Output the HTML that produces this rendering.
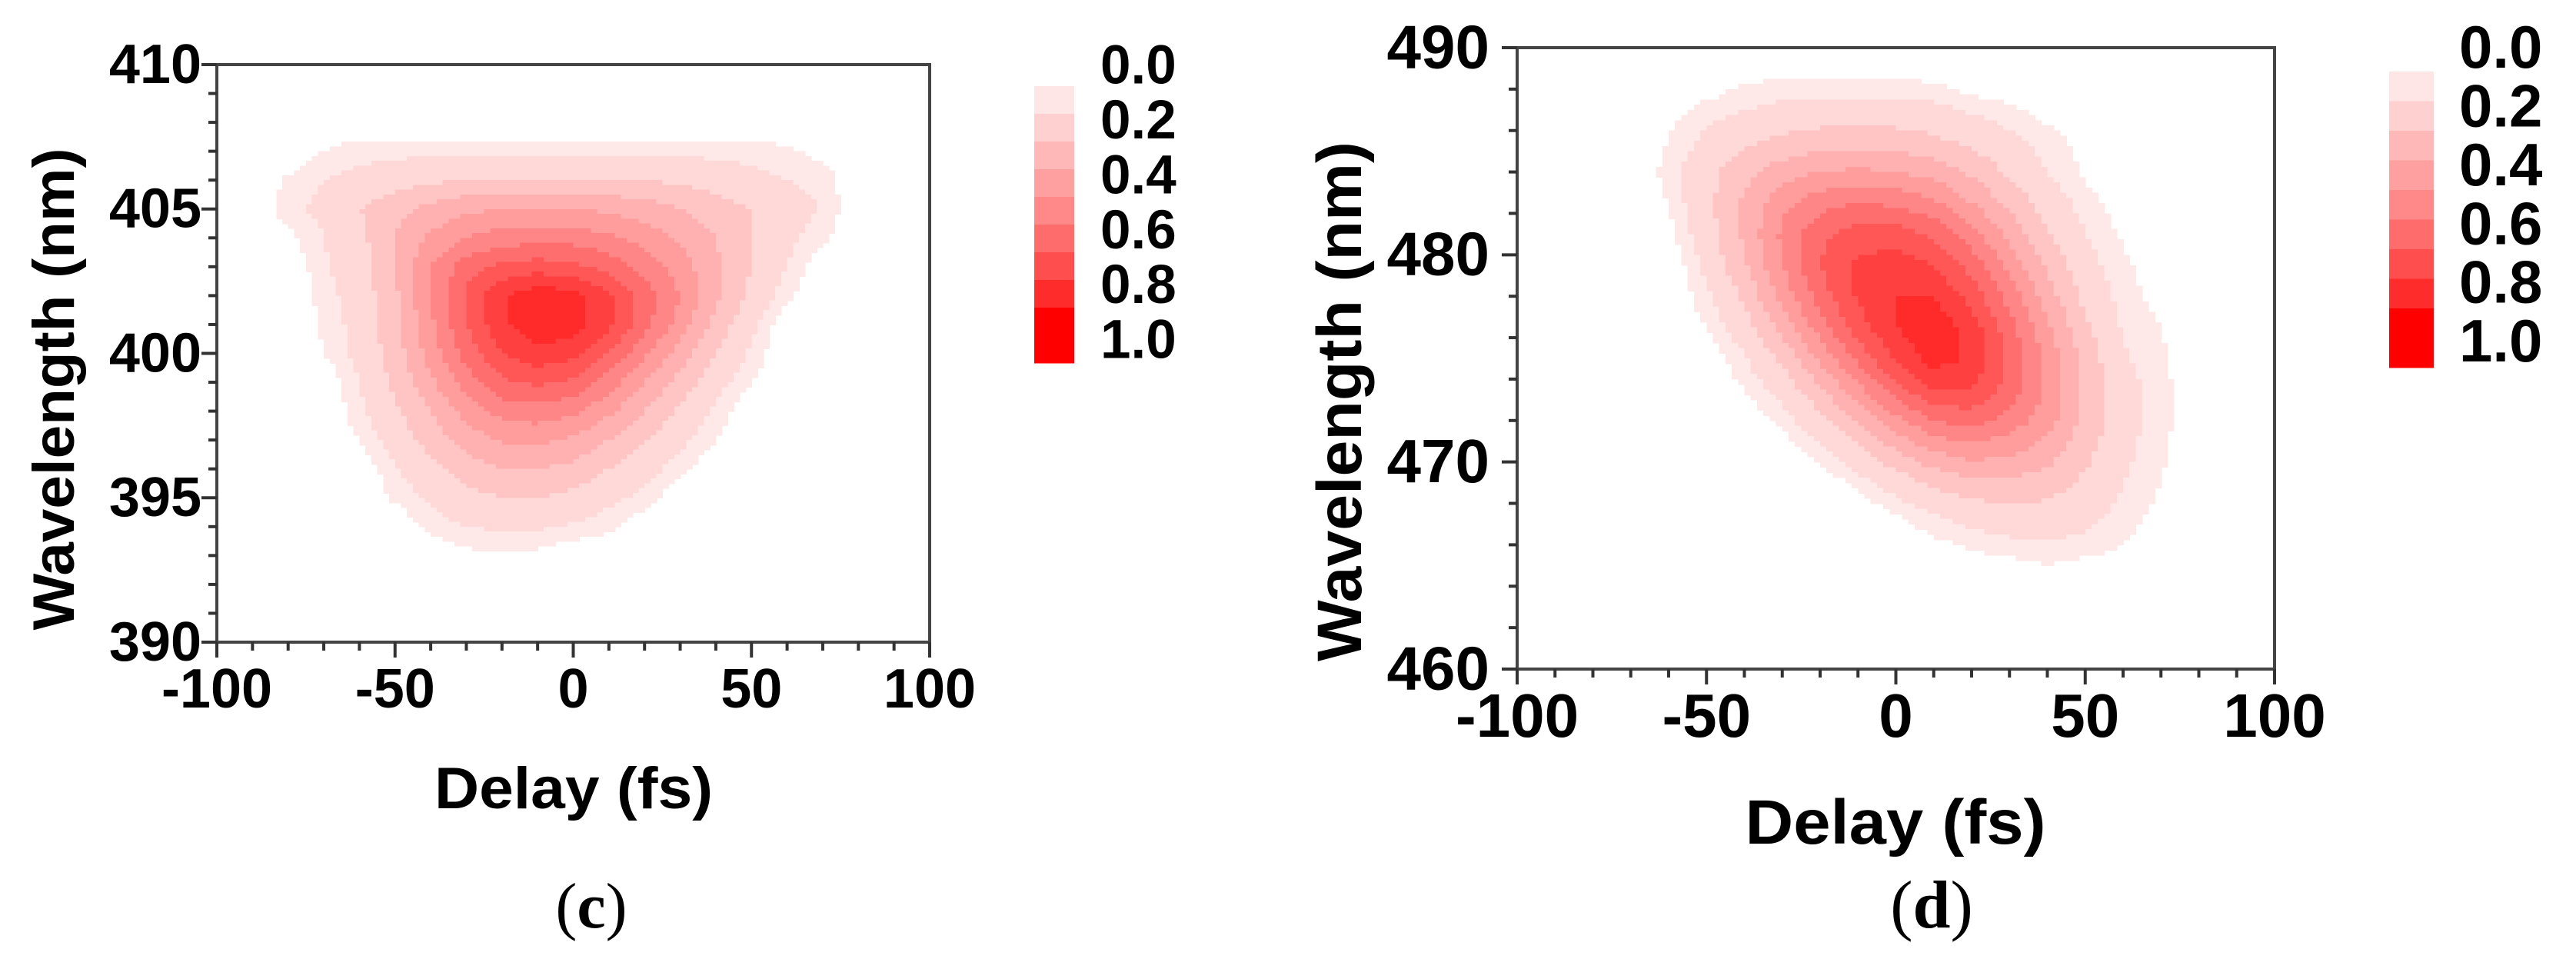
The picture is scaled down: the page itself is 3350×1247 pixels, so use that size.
<!DOCTYPE html>
<html><head><meta charset="utf-8"><style>
html,body{margin:0;padding:0;background:#fff;}
svg{display:block;}
text{font-family:"Liberation Sans",Arial,sans-serif;font-weight:bold;fill:#000;}
.cap{font-family:"Liberation Serif","Times New Roman",serif;font-weight:normal;}
</style></head><body>
<svg id="fig" width="3350" height="1247" viewBox="0 0 3350 1247" xmlns="http://www.w3.org/2000/svg"></svg>
<script>
// ---------- data: panel (c) ----------
const cDelays = [-100,-90,-80,-70,-60,-50,-40,-30,-20,-10,0,10,20,30,40,50,60,70,80,90,100];
const cWavelengths = [410,409,408,407,406,405,404,403,402,401,400,399,398,397,396,395,394,393,392,391,390];
const cIntensity = [
[0,0,0,0,0,0,0,0,0,0,0,0,0,0,0,0,0,0,0,0,0],
[0,0,0,0,0,0,0,0,0,0,0,0,0,0,0,0,0,0,0,0,0],
[0,0,0,0,0,0,0,0,0,0,0,0,0,0,0,0,0,0,0,0,0],
[0,0,0,0.05,0.08,0.08,0.08,0.08,0.08,0.08,0.08,0.08,0.08,0.08,0.08,0.08,0.06,0.03,0,0,0],
[0,0,0.06,0.1,0.12,0.15,0.18,0.2,0.2,0.2,0.2,0.2,0.2,0.18,0.15,0.12,0.1,0.08,0,0,0],
[0,0,0.08,0.12,0.2,0.27,0.33,0.38,0.4,0.4,0.4,0.38,0.35,0.3,0.25,0.2,0.15,0.09,0,0,0],
[0,0,0.03,0.1,0.17,0.3,0.42,0.5,0.55,0.56,0.56,0.52,0.46,0.38,0.3,0.2,0.12,0.06,0,0,0],
[0,0,0,0.09,0.15,0.3,0.5,0.65,0.72,0.75,0.73,0.66,0.56,0.45,0.32,0.2,0.1,0,0,0,0],
[0,0,0,0.07,0.14,0.28,0.5,0.72,0.88,0.97,0.93,0.82,0.66,0.5,0.32,0.17,0.06,0,0,0,0],
[0,0,0,0.06,0.13,0.27,0.48,0.7,0.88,0.98,0.95,0.82,0.64,0.45,0.26,0.12,0,0,0,0,0],
[0,0,0,0.05,0.12,0.25,0.44,0.64,0.8,0.87,0.83,0.7,0.52,0.35,0.2,0.08,0,0,0,0,0],
[0,0,0,0,0.1,0.22,0.38,0.55,0.68,0.72,0.68,0.55,0.4,0.26,0.13,0.05,0,0,0,0,0],
[0,0,0,0,0.08,0.18,0.3,0.44,0.54,0.56,0.52,0.42,0.3,0.18,0.08,0,0,0,0,0,0],
[0,0,0,0,0.05,0.14,0.24,0.34,0.41,0.42,0.38,0.3,0.2,0.12,0.05,0,0,0,0,0,0],
[0,0,0,0,0,0.09,0.17,0.25,0.3,0.3,0.27,0.2,0.13,0.07,0,0,0,0,0,0,0],
[0,0,0,0,0,0.06,0.11,0.16,0.2,0.2,0.17,0.12,0.08,0,0,0,0,0,0,0,0],
[0,0,0,0,0,0,0.07,0.1,0.11,0.11,0.09,0.06,0,0,0,0,0,0,0,0,0],
[0,0,0,0,0,0,0,0.03,0.04,0.03,0,0,0,0,0,0,0,0,0,0,0],
[0,0,0,0,0,0,0,0,0,0,0,0,0,0,0,0,0,0,0,0,0],
[0,0,0,0,0,0,0,0,0,0,0,0,0,0,0,0,0,0,0,0,0],
[0,0,0,0,0,0,0,0,0,0,0,0,0,0,0,0,0,0,0,0,0]
];
const cXTicks = [-100,-50,0,50,100];
const cYTicks = [390,395,400,405,410];

// ---------- data: panel (d) ----------
const dDelays = [-100,-90,-80,-70,-60,-50,-40,-30,-20,-10,0,10,20,30,40,50,60,70,80,90,100];
const dWavelengths = [490,488.5,487,485.5,484,482.5,481,479.5,478,476.5,475,473.5,472,470.5,469,467.5,466,464.5,463,461.5,460];
const dIntensity = [
[0,0,0,0,0,0,0,0,0,0,0,0,0,0,0,0,0,0,0,0,0],
[0,0,0,0,0,0,0.04,0.05,0.05,0.05,0.05,0.04,0,0,0,0,0,0,0,0,0],
[0,0,0,0,0.03,0.07,0.1,0.12,0.13,0.13,0.13,0.12,0.09,0.06,0.03,0,0,0,0,0,0],
[0,0,0,0,0.05,0.12,0.18,0.22,0.25,0.26,0.25,0.22,0.17,0.12,0.07,0.03,0,0,0,0,0],
[0,0,0,0,0.07,0.16,0.27,0.35,0.4,0.42,0.4,0.36,0.28,0.18,0.1,0.04,0,0,0,0,0],
[0,0,0,0,0.05,0.17,0.32,0.47,0.56,0.6,0.58,0.52,0.4,0.27,0.15,0.07,0.02,0,0,0,0],
[0,0,0,0,0.03,0.15,0.32,0.52,0.67,0.75,0.75,0.68,0.54,0.37,0.21,0.1,0.04,0,0,0,0],
[0,0,0,0,0,0.12,0.28,0.5,0.7,0.82,0.85,0.8,0.66,0.47,0.28,0.13,0.06,0.02,0,0,0],
[0,0,0,0,0,0.08,0.22,0.43,0.65,0.82,0.9,0.9,0.76,0.56,0.35,0.17,0.07,0.03,0,0,0],
[0,0,0,0,0,0.05,0.15,0.33,0.55,0.75,0.9,0.97,0.85,0.64,0.42,0.22,0.09,0.05,0,0,0],
[0,0,0,0,0,0,0.09,0.22,0.42,0.63,0.82,0.95,0.88,0.68,0.47,0.26,0.11,0.06,0,0,0],
[0,0,0,0,0,0,0.05,0.13,0.28,0.47,0.66,0.8,0.8,0.66,0.48,0.28,0.13,0.07,0,0,0],
[0,0,0,0,0,0,0,0.07,0.16,0.3,0.47,0.6,0.64,0.56,0.44,0.27,0.13,0.07,0,0,0],
[0,0,0,0,0,0,0,0,0.08,0.17,0.29,0.4,0.45,0.42,0.35,0.23,0.12,0.06,0,0,0],
[0,0,0,0,0,0,0,0,0,0.07,0.14,0.22,0.27,0.28,0.25,0.18,0.1,0.05,0,0,0],
[0,0,0,0,0,0,0,0,0,0,0.05,0.1,0.14,0.16,0.16,0.13,0.08,0.03,0,0,0],
[0,0,0,0,0,0,0,0,0,0,0,0.03,0.06,0.08,0.09,0.08,0.05,0,0,0,0],
[0,0,0,0,0,0,0,0,0,0,0,0,0,0,0.03,0,0,0,0,0,0],
[0,0,0,0,0,0,0,0,0,0,0,0,0,0,0,0,0,0,0,0,0],
[0,0,0,0,0,0,0,0,0,0,0,0,0,0,0,0,0,0,0,0,0],
[0,0,0,0,0,0,0,0,0,0,0,0,0,0,0,0,0,0,0,0,0]
];
const dXTicks = [-100,-50,0,50,100];
const dYTicks = [460,470,480,490];

// ---------- colour scale ----------
const levelColors = ['#ffe8e8','#ffd8d8','#ffc4c4','#ffb0b0','#ff9c9c','#ff8686','#ff6e6e','#ff5656','#ff4040','#ff2a2a'];
const barColors = ['#ffe6e6','#ffd0d0','#ffb8b8','#ffa0a0','#ff8888','#ff6c6c','#ff4e4e','#ff2c2c','#ff0000'];
const barLabels = ['0.0','0.2','0.4','0.6','0.8','1.0'];

const NS = 'http://www.w3.org/2000/svg';
const svg = document.getElementById('fig');
function mk(tag, attrs, parent){
  const e = document.createElementNS(NS, tag);
  for (const k in attrs) e.setAttribute(k, attrs[k]);
  (parent||svg).appendChild(e);
  return e;
}
function colorFor(v){
  if (v < 0.05) return null;
  let k = Math.floor(v*10); if (k>9) k=9;
  return levelColors[k];
}

function drawPanel(p){
  const g = mk('g', {});
  
  
  const xs = v => p.x0 + (v - p.xmin)/(p.xmax - p.xmin)*(p.x1 - p.x0);
  const ys = v => p.y1 - (v - p.ymin)/(p.ymax - p.ymin)*(p.y1 - p.y0);

  const hm = mk('g', {'shape-rendering':'crispEdges'}, g);
  
  
  const S = 6;
  const X = p.delays, Y = p.waves, Z = p.values;
  for (let r = 0; r < Y.length-1; r++){
    for (let c = 0; c < X.length-1; c++){
      const z00=Z[r][c], z01=Z[r][c+1], z10=Z[r+1][c], z11=Z[r+1][c+1];
      if (Math.max(z00,z01,z10,z11)===0) continue;
      const xa = xs(X[c]), xb = xs(X[c+1]), ya = ys(Y[r]), yb = ys(Y[r+1]);
      const dw = (xb-xa)/S, dh = (yb-ya)/S;
      for (let i=0;i<S;i++){
        for (let j=0;j<S;j++){
          const u=(j+0.5)/S, t=(i+0.5)/S;
          const v = z00*(1-u)*(1-t)+z01*u*(1-t)+z10*(1-u)*t+z11*u*t;
          const col = colorFor(v);
          if (!col) continue;
          const cell = mk('rect', {x:(xa+j*dw).toFixed(1), y:(ya+i*dh).toFixed(1), width:(dw+0.8).toFixed(1), height:(dh+0.8).toFixed(1), fill:col}, hm);
          
          
        }
      }
    }
  }

  const fr = mk('rect', {x:p.x0, y:p.y0, width:p.x1-p.x0, height:p.y1-p.y0, fill:'none', stroke:'#444', 'stroke-width':4}, g);
  
  

  const xa = mk('g', {stroke:'#333','stroke-width':4}, g);
  
  
  for (let v = p.xmin; v <= p.xmax + 1e-9; v += p.xminor){
    const major = p.xticks.some(t => Math.abs(t - v) < 1e-6);
    mk('line', {x1:xs(v), x2:xs(v), y1:p.y1, y2:p.y1 + (major?20:11)}, xa);
  }
  p.xticks.forEach(t => {
    const tx = mk('text', {x:xs(t), y:p.xlabBase, 'text-anchor':'middle', 'font-size':p.fs, stroke:'none'}, g);
    
    
    tx.textContent = String(t);
  });
  const ya2 = mk('g', {stroke:'#333','stroke-width':4}, g);
  
  
  for (let v = p.ymin; v <= p.ymax + 1e-9; v += p.yminor){
    const major = p.yticks.some(t => Math.abs(t - v) < 1e-6);
    mk('line', {x1:p.x0, x2:p.x0 - (major?20:11), y1:ys(v), y2:ys(v)}, ya2);
  }
  p.yticks.forEach(t => {
    const ty = mk('text', {x:p.ylabRight, y:ys(t) + p.fs*0.33, 'text-anchor':'end', 'font-size':p.fs}, g);
    
    
    ty.textContent = String(t);
  });

  const xt = mk('text', {x:p.xtitle[0], y:p.xtitle[1], 'text-anchor':'middle', 'font-size':p.tfs, textLength:p.xtitle[2], lengthAdjust:'spacingAndGlyphs'}, g);
  
  
  xt.textContent = 'Delay (fs)';
  const yt = mk('text', {x:0, y:0, 'text-anchor':'middle', 'font-size':p.tfs, textLength:p.ytitle[2], lengthAdjust:'spacingAndGlyphs', transform:'translate(' + p.ytitle[0] + ',' + p.ytitle[1] + ') rotate(-90)'}, g);
  
  
  yt.textContent = 'Wavelength (nm)';

  const cb = mk('g', {'shape-rendering':'crispEdges'}, g);
  
  
  const n = barColors.length;
  const bh = (p.cb.y1 - p.cb.y0) / (n + 1);
  barColors.forEach((col, i) => {
    const h = (i === n-1) ? bh*2 : bh;
    const seg = mk('rect', {x:p.cb.x0, y:p.cb.y0 + i*bh, width:p.cb.x1 - p.cb.x0, height:h + 0.5, fill:col}, cb);
    
    
  });
  barLabels.forEach((lab, i) => {
    const t = mk('text', {x:p.cb.lx, y:p.cb.l0 + i*p.cb.ls + p.cb.fs*0.36, 'font-size':p.cb.fs}, g);
    
    
    t.textContent = lab;
  });

  const cap = mk('text', {x:p.cap[0], y:p.cap[1], 'text-anchor':'middle', 'font-size':p.cap[2], class:'cap'}, g);
  
  
  cap.innerHTML = '(<tspan font-weight="bold">' + p.letter + '</tspan>)';
}

drawPanel({name:'panel-c', letter:'c', delays:cDelays, waves:cWavelengths, values:cIntensity,
  x0:282, x1:1209, y0:84, y1:835, xmin:-100, xmax:100, ymin:390, ymax:410,
  xticks:cXTicks, yticks:cYTicks, xminor:10, yminor:1,
  fs:72, xlabBase:920, ylabRight:262, tfs:76,
  xtitle:[746,1051,362], ytitle:[96,506,627],
  cb:{x0:1345, x1:1397, y0:112, y1:472, lx:1431, l0:83, ls:71.4, fs:71},
  cap:[769,1206,84]});

drawPanel({name:'panel-d', letter:'d', delays:dDelays, waves:dWavelengths, values:dIntensity,
  x0:1973, x1:2958, y0:62, y1:870, xmin:-100, xmax:100, ymin:460, ymax:490,
  xticks:dXTicks, yticks:dYTicks, xminor:10, yminor:2,
  fs:80, xlabBase:958, ylabRight:1937, tfs:82,
  xtitle:[2465,1097,391], ytitle:[1770,522,676],
  cb:{x0:3107, x1:3165, y0:93, y1:478, lx:3198, l0:60, ls:76.4, fs:78},
  cap:[2512,1206,88]});
</script>
</body></html>
